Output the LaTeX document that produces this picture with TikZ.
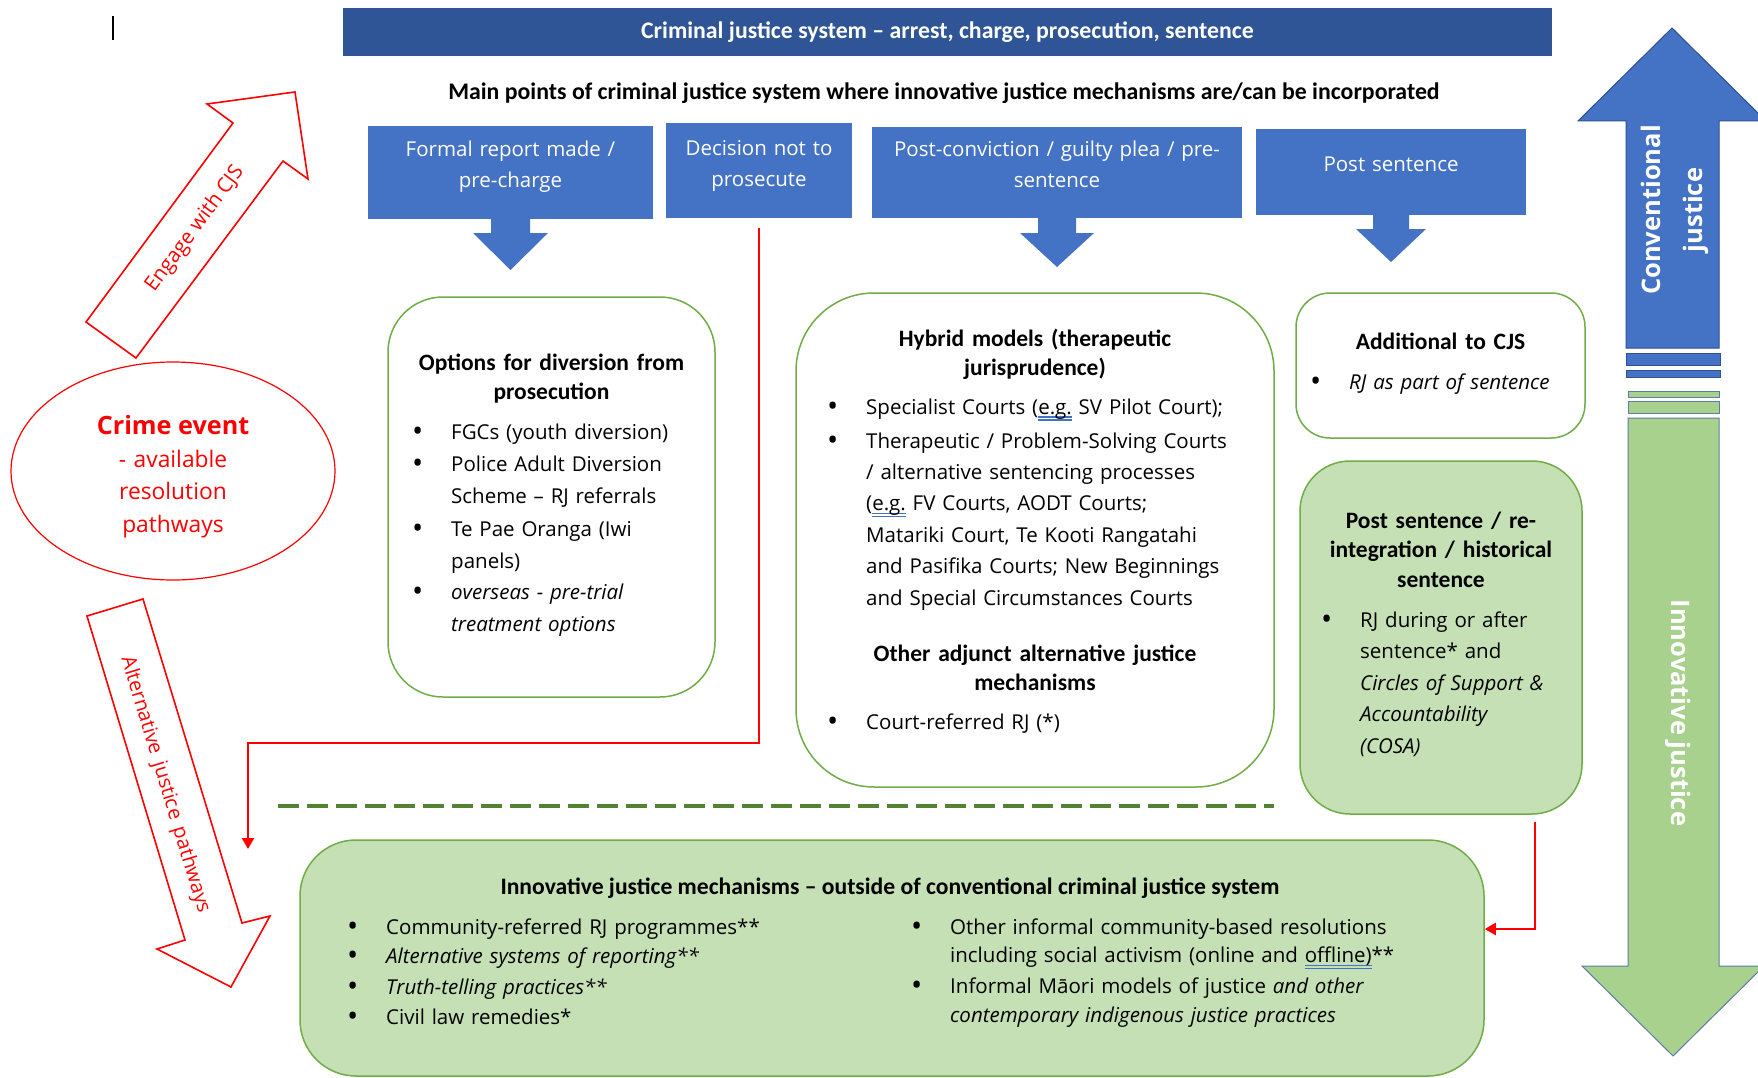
\documentclass[tikz,border=0pt]{standalone}
\usepackage{fontspec}
\usepackage{graphicx}
\setmainfont{Open Sans}
\newfontfamily\calfont[Ligatures=TeX]{Carlito}
\usetikzlibrary{shapes.geometric,arrows.meta}
\definecolor{tbar}{HTML}{2F5597}
\definecolor{bblue}{HTML}{4472C4}
\definecolor{bbline}{HTML}{2F528F}
\definecolor{gline}{HTML}{70AD47}
\definecolor{gfill}{HTML}{C5E0B4}
\definecolor{garrow}{HTML}{A9D18E}
\definecolor{garrowline}{HTML}{5B7FA6}
\definecolor{dgreen}{HTML}{548235}
\definecolor{ulblue}{HTML}{4472C4}
\newcommand\spellul[1]{\setbox0\hbox{#1}\rlap{\color{ulblue}\rule[-3.5pt]{\wd0}{1.1pt}}\rlap{\color{ulblue}\rule[-6.5pt]{\wd0}{1.1pt}}\box0{}}
\newcommand\bul{\leavevmode\llap{\raisebox{-0.13em}{\scalebox{1.45}{\upshape\textbullet}}\hspace{28pt}}}
\begin{document}
\begin{tikzpicture}[x=1pt,y=-1pt,
  body/.style={font=\fontsize{20.5}{32}\selectfont, inner sep=0pt, anchor=base west, text width=#1, align=left},
  body/.default=420pt,
  ttl/.style={font=\calfont\bfseries\fontsize{23.5}{29.5}\selectfont, inner sep=0pt, anchor=base, text width=#1, align=center},
  ttl/.default=300pt,
  bluebox/.style={fill=bblue, inner sep=0pt},
  bluetxt/.style={font=\fontsize{20.5}{31}\selectfont, text=white, inner sep=0pt, anchor=base, text width=#1, align=center},
  bluetxt/.default=280pt,
  wbox/.style={draw=gline, line width=1.5pt, fill=white, inner sep=0pt},
  gbox/.style={draw=gline, line width=1.5pt, fill=gfill, inner sep=0pt},
  redline/.style={draw=red, line width=2.2pt},
  redarrow/.style={redline, -{Triangle[width=12pt,length=11pt]}},
  blockarrow/.style={draw=red, line width=1.6pt, fill=white, line join=miter},
  downtip/.style={fill=bblue},
  redtxt/.style={text=red, inner sep=0pt},
]
\clip (0,0) rectangle (1758,1078);
\fill[white] (0,0) rectangle (1758,1078);

% cursor mark
\draw[black, line width=1.2pt] (113,16) -- (113,40);

% title bar
\node[fill=tbar, minimum width=1209pt, minimum height=48pt, inner sep=0pt, text=white,
      font=\calfont\bfseries\fontsize{23.8}{28}\selectfont] (cjs) at (947.5,32) {Criminal justice system – arrest, charge, prosecution, sentence};

\node[font=\calfont\bfseries\fontsize{23.8}{28}\selectfont, anchor=base, inner sep=0pt] (mainpts) at (944,100)
  {Main points of criminal justice system where innovative justice mechanisms are/can be incorporated};

% blue stage boxes with down arrows
\node[bluebox, minimum width=285pt, minimum height=93pt] (b1) at (510.5,172.5) {};
\fill[downtip] (491,215) -- (491,233) -- (473,233) -- (510.5,270) -- (548,233) -- (530,233) -- (530,215) -- cycle;
\node[bluetxt] (b1t) at (510.5,157) {Formal report made /\\pre-charge};

\node[bluebox, minimum width=186pt, minimum height=95pt] (b2) at (759,170.5) {};
\node[bluetxt=180pt] (b2t) at (759,156) {Decision not to\\prosecute};

\node[bluebox, minimum width=370pt, minimum height=91pt] (b3) at (1057,172.5) {};
\fill[downtip] (1038,215) -- (1038,233) -- (1020,233) -- (1057,267) -- (1094,233) -- (1076,233) -- (1076,215) -- cycle;
\node[bluetxt=365pt] (b3t) at (1057,157) {Post-conviction / guilty plea / pre-\\sentence};

\node[bluebox, minimum width=270pt, minimum height=86pt] (b4) at (1391,172) {};
\fill[downtip] (1373,212) -- (1373,229) -- (1356,229) -- (1391,262) -- (1426,229) -- (1409,229) -- (1409,212) -- cycle;
\node[bluetxt=260pt] (b4t) at (1391,172) {Post sentence};

% Options for diversion box
\node[wbox, rounded corners=55pt, minimum width=327pt, minimum height=400pt] (g1) at (551.5,497) {};
\node[ttl] (g1t) at (551.5,370) {Options for diversion from\\prosecution};
\node[body=250pt] (g1a) at (451,439) {\bul FGCs (youth diversion)};
\node[body=250pt] (g1b) at (451,471) {\bul Police Adult Diversion\\Scheme – RJ referrals};
\node[body=250pt] (g1c) at (451,536) {\bul Te Pae Oranga (Iwi\\panels)};
\node[body=250pt] (g1d) at (451,599) {\bul{\itshape overseas - pre-trial\\treatment options}};

% Hybrid models box
\node[wbox, rounded corners=78pt, minimum width=478pt, minimum height=494pt] (g2) at (1035,540) {};
\node[ttl=420pt] (g2t) at (1035,346) {Hybrid models (therapeutic\\jurisprudence)};
\node[body=400pt] (g2a) at (866,414) {\bul Specialist Courts (\spellul{e.g.} SV Pilot Court);};
\node[body=400pt, font=\fontsize{20.5}{31.4}\selectfont] (g2b) at (866,448) {\bul Therapeutic / Problem-Solving Courts\\/ alternative sentencing processes\\(\spellul{e.g.} FV Courts, AODT Courts;\\Matariki Court, Te Kooti Rangatahi\\and Pasifika Courts; New Beginnings\\and Special Circumstances Courts};
\node[ttl=420pt] (g2t2) at (1035,661) {Other adjunct alternative justice\\mechanisms};
\node[body=400pt] (g2c) at (866,729) {\bul Court-referred RJ (*)};

% Additional to CJS
\node[wbox, rounded corners=34pt, minimum width=289pt, minimum height=145pt] (g3) at (1440.5,365.5) {};
\node[ttl=280pt] (g3t) at (1440.5,349) {Additional to CJS};
\node[body=230pt] (g3a) at (1349,389) {\bul{\itshape RJ as part of sentence}};

% Post sentence green box
\node[gbox, rounded corners=50pt, minimum width=282pt, minimum height=353pt] (g4) at (1441,637.5) {};
\node[ttl=270pt] (g4t) at (1441,528) {Post sentence / re-\\integration / historical\\sentence};
\node[body=215pt, font=\fontsize{20.5}{31.5}\selectfont] (g4a) at (1360,627) {\bul RJ during or after\\sentence* and\\{\itshape Circles of Support \&\\Accountability\\(COSA)}};

% dashed separator
\coordinate (dsl) at (278,806);
\coordinate (dsr) at (1274,806);
\draw[dgreen, line width=3.5pt, dash pattern=on 21pt off 8pt] (dsl) -- (dsr);

% Innovative justice mechanisms box
\node[gbox, rounded corners=56pt, minimum width=1184pt, minimum height=236pt] (g5) at (892,958) {};
\node[font=\calfont\bfseries\fontsize{23.6}{28}\selectfont, inner sep=0pt, anchor=base] (g5t) at (890,894)
  {Innovative justice mechanisms – outside of conventional criminal justice system};
\node[body] (g5a) at (386,934) {\bul Community-referred RJ programmes**};
\node[body] (g5b) at (386,963) {\bul{\itshape Alternative systems of reporting**}};
\node[body] (g5c) at (386,994) {\bul{\itshape Truth-telling practices**}};
\node[body] (g5d) at (386,1024) {\bul Civil law remedies*};
\node[body=500pt, font=\fontsize{20.5}{28.5}\selectfont] (g5e) at (950,934) {\bul Other informal community-based resolutions\\including social activism (online and \spellul{offline)}**};
\node[body=500pt, font=\fontsize{20.5}{29}\selectfont] (g5f) at (950,993) {\bul Informal M\=aori models of justice {\itshape and other\\contemporary indigenous justice practices}};

% crime event
\node[ellipse, draw=red, line width=1.2pt, fill=white, minimum width=324pt, minimum height=218pt, inner sep=0pt] (crime) at (173,471) {};
\node[redtxt, font=\bfseries\fontsize{25.2}{30}\selectfont, anchor=base] (crt1) at (173,434) {Crime event};
\node[redtxt, font=\fontsize{22.8}{32.5}\selectfont, anchor=base, text width=200pt, align=center] (crt2) at (173,467) {- available\\resolution\\pathways};

% engage with CJS block arrow
\draw[blockarrow] (86,322) -- (233,123) -- (207,104) -- (295,92) -- (308,179) -- (283,161) -- (136,358) -- cycle;
\node[redtxt, font=\fontsize{20.5}{24}\selectfont, rotate=53.4] (engage) at (195,229) {Engage with CJS};

% alternative justice pathways block arrow
\draw[blockarrow] (87,616) -- (143,599) -- (242,923) -- (270,916) -- (231,987) -- (157,949) -- (185,940) -- cycle;
\node[redtxt, font=\fontsize{20}{24}\selectfont, rotate=-73.1] (altj) at (165,785) {Alternative\, justice\, pathways};

% red connectors
\coordinate (r1s) at ([yshift=-10pt]b2.south);
\coordinate (r1b) at (248,743);
\coordinate (altend) at (248,849);
\draw[redarrow] (r1s) |- (r1b) -- (altend);
\coordinate (r2s) at (1535,822);
\coordinate (r2c) at (1535,929);
\draw[redarrow] (r2s) -- (r2c) -- (r2c -| g5.east);

% right double arrow
\draw[fill=bblue, draw=bbline, line width=1pt] (1626,348) -- (1626,121) -- (1578,121) -- (1672,28) -- (1766,121) -- (1719,121) -- (1719,348) -- cycle;
\draw[fill=bblue, draw=bbline, line width=0.8pt] (1626,353) rectangle (1720,365);
\draw[fill=bblue, draw=bbline, line width=0.8pt] (1626,370) rectangle (1720,377);
\draw[fill=garrow, draw=garrowline, line width=0.8pt] (1628,391) rectangle (1719,397);
\draw[fill=garrow, draw=garrowline, line width=0.8pt] (1628,401) rectangle (1719,413);
\draw[fill=garrow, draw=garrowline, line width=1pt] (1628,418) -- (1628,966) -- (1582,966) -- (1673,1056) -- (1764,966) -- (1719,966) -- (1719,418) -- cycle;
\node[text=white, font=\bfseries\fontsize{25.5}{42}\selectfont, rotate=90, align=center, inner sep=0pt] (conv) at (1675,210) {Conventional\\justice};
\node[text=white, font=\bfseries\fontsize{25.5}{30}\selectfont, rotate=-90, inner sep=0pt] (innov) at (1678,713) {Innovative justice};
\end{tikzpicture}
\end{document}
